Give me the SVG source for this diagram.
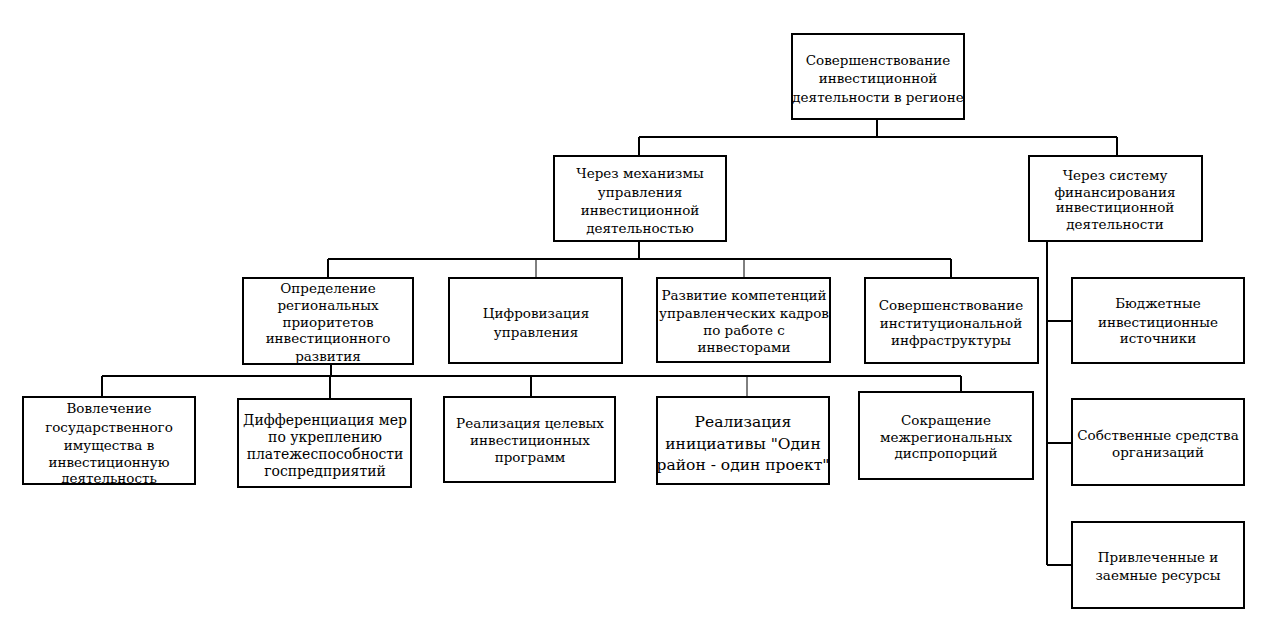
<svg xmlns="http://www.w3.org/2000/svg" width="1280" height="634" viewBox="0 0 1280 634">
<style>
.b{fill:#fff;stroke:#000;stroke-width:2}
.t{font-family:'DejaVu Serif','Liberation Serif',serif;font-size:13.5px;text-anchor:middle;fill:#000}
.t18{font-size:15.5px}
.t15{font-size:14px}
.c{fill:none;stroke:#000;stroke-width:2}
.c1{fill:none;stroke:#000;stroke-width:1}
</style>
<rect width="1280" height="634" fill="#fff"/>
<g id="connectors">
<path class="c" d="M877 119V137M639 137H1117M639 137V156M1117 137V156"/>
<path class="c" d="M639 241V259M328 259H951M328 259V278M951 259V278"/>
<path class="c1" d="M536 259V278M744 259V278"/>
<path class="c" d="M1047 241V565M1047 321H1072M1047 443H1072M1047 565H1072"/>
<path class="c" d="M331 364V376M102 376H961M102 376V397M330 376V399M531 376V397M961 376V392"/>
<path class="c1" d="M747 376V397"/>
</g>
<g id="n1"><rect class="b" x="792" y="34" width="172" height="85"/>
<text class="t" x="878" y="65">Совершенствование</text><text class="t" x="878" y="83">инвестиционной</text><text class="t" x="878" y="102">деятельности в регионе</text></g>
<g id="n2"><rect class="b" x="554" y="156" width="172" height="85"/>
<text class="t" x="640" y="178">Через механизмы</text><text class="t" x="640" y="197">управления</text><text class="t" x="640" y="215">инвестиционной</text><text class="t" x="640" y="233">деятельностью</text></g>
<g id="n3"><rect class="b" x="1029" y="156" width="173" height="85"/>
<text class="t" x="1115" y="180">Через систему</text><text class="t" x="1115" y="197">финансирования</text><text class="t" x="1115" y="212">инвестиционной</text><text class="t" x="1115" y="229">деятельности</text></g>
<g id="n4"><rect class="b" x="243" y="278" width="170" height="86"/>
<text class="t" x="328" y="293">Определение</text><text class="t" x="328" y="310">региональных</text><text class="t" x="328" y="327">приоритетов</text><text class="t" x="328" y="343">инвестиционного</text><text class="t" x="328" y="361">развития</text></g>
<g id="n5"><rect class="b" x="449" y="278" width="173" height="85"/>
<text class="t" x="536" y="318">Цифровизация</text><text class="t" x="536" y="337">управления</text></g>
<g id="n6"><rect class="b" x="657" y="278" width="173" height="84"/>
<text class="t" x="744" y="300">Развитие компетенций</text><text class="t" x="744" y="318">управленческих кадров</text><text class="t" x="744" y="335">по работе с</text><text class="t" x="744" y="352">инвесторами</text></g>
<g id="n7"><rect class="b" x="865" y="278" width="173" height="85"/>
<text class="t" x="951" y="310">Совершенствование</text><text class="t" x="951" y="328">институциональной</text><text class="t" x="951" y="345">инфраструктуры</text></g>
<g id="n8"><rect class="b" x="1072" y="278" width="172" height="85"/>
<text class="t" x="1158" y="308">Бюджетные</text><text class="t" x="1158" y="327">инвестиционные</text><text class="t" x="1158" y="343">источники</text></g>
<g id="n9"><rect class="b" x="1072" y="399" width="172" height="86"/>
<text class="t" x="1158" y="440">Собственные средства</text><text class="t" x="1158" y="457">организаций</text></g>
<g id="n10"><rect class="b" x="1072" y="522" width="172" height="86"/>
<text class="t" x="1158" y="562">Привлеченные и</text><text class="t" x="1158" y="580">заемные ресурсы</text></g>
<g id="n11"><rect class="b" x="23" y="397" width="172" height="87"/>
<text class="t" x="109" y="413">Вовлечение</text><text class="t" x="109" y="432">государственного</text><text class="t" x="109" y="450">имущества в</text><text class="t" x="109" y="467">инвестиционную</text><text class="t" x="109" y="483">деятельность</text></g>
<g id="n12"><rect class="b" x="238" y="399" width="173" height="88"/>
<text class="t t15" x="325" y="425">Дифференциация мер</text><text class="t t15" x="325" y="442">по укреплению</text><text class="t t15" x="325" y="459">платежеспособности</text><text class="t t15" x="325" y="476">госпредприятий</text></g>
<g id="n13"><rect class="b" x="444" y="397" width="171" height="85"/>
<text class="t" x="530" y="428">Реализация целевых</text><text class="t" x="530" y="445">инвестиционных</text><text class="t" x="530" y="462">программ</text></g>
<g id="n14"><rect class="b" x="657" y="397" width="172" height="87"/>
<text class="t t18" x="743" y="427">Реализация</text><text class="t t18" x="743" y="449">инициативы "Один</text><text class="t t18" x="743" y="470">район - один проект"</text></g>
<g id="n15"><rect class="b" x="859" y="392" width="174" height="87"/>
<text class="t" x="946" y="425">Сокращение</text><text class="t" x="946" y="442">межрегиональных</text><text class="t" x="946" y="458">диспропорций</text></g>
</svg>
